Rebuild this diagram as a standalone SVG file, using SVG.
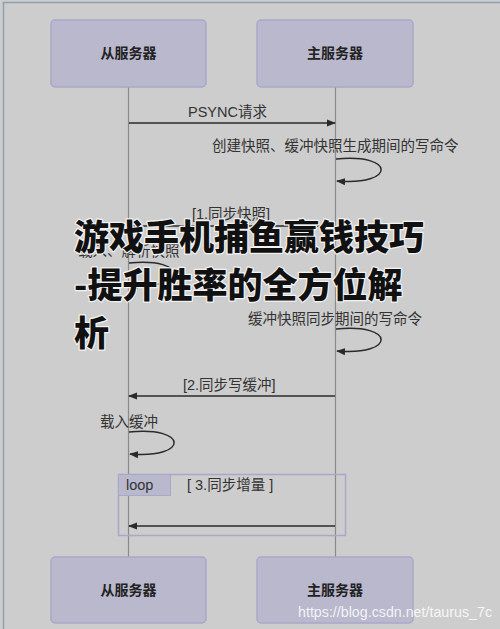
<svg xmlns="http://www.w3.org/2000/svg" width="500" height="629" viewBox="0 0 500 629">
<defs>
<marker id="ah" viewBox="0 0 10 10" refX="9" refY="5" markerWidth="9" markerHeight="9" markerUnits="userSpaceOnUse" orient="auto">
<path d="M0,1 L10,5 L0,9 Z" fill="#2a2a2a"/>
</marker>
<style>
.box{fill:#b9b8cd;stroke:#aaa8c9;stroke-width:1.5}
.lbl{font-family:"Noto Sans CJK SC","Noto Sans",sans-serif;font-size:14px;font-weight:700;fill:#222;text-anchor:middle}
.t{font-family:"Liberation Sans","Noto Sans CJK SC",sans-serif;font-size:14.5px;fill:#333}
.life{stroke:#8a8a8a;stroke-width:1.2}
.msg{stroke:#2a2a2a;stroke-width:1.5;fill:none;marker-end:url(#ah)}
.title{font-family:"Noto Sans CJK SC",sans-serif;font-size:35px;font-weight:900;fill:#111;stroke:#f2f2f2;stroke-width:2.5;paint-order:stroke;stroke-linejoin:round}
</style>
</defs>
<rect width="500" height="629" fill="#cdcdcd"/>
<path d="M3.5,629 V2.5 H500" fill="none" stroke="#8fa0ae" stroke-width="1.5"/>
<g id="lifelines">
<line class="life" x1="128.5" y1="87" x2="128.5" y2="557"/>
<line class="life" x1="335.5" y1="87" x2="335.5" y2="557"/>
</g>
<g id="loopframe">
<rect x="118.5" y="474.5" width="227" height="61" fill="none" stroke="#aaa8c9" stroke-width="1.5"/>
<rect x="118.5" y="474.5" width="52" height="21" fill="#b9b8cd" stroke="#aaa8c9" stroke-width="1"/>
<text class="t" x="126" y="490" font-size="14">loop</text>
<text class="t" x="187" y="490">[ 3.同步增量 ]</text>
</g>
<g id="slave-top"><rect class="box" x="51" y="20" width="155" height="67" rx="4"/><text class="lbl" x="128.5" y="58">从服务器</text></g>
<g id="master-top"><rect class="box" x="257" y="20" width="156" height="67" rx="4"/><text class="lbl" x="335" y="58">主服务器</text></g>
<g id="slave-bottom"><rect class="box" x="51" y="557" width="155" height="66" rx="4"/><text class="lbl" x="128.5" y="595">从服务器</text></g>
<g id="master-bottom"><rect class="box" x="257" y="557" width="156" height="66" rx="4"/><text class="lbl" x="335" y="595">主服务器</text></g>
<g id="connectors">
<line class="msg" x1="129" y1="123" x2="335" y2="123"/>
<text class="t" x="188" y="117">PSYNC请求</text>
<text class="t" x="212" y="151">创建快照、缓冲快照生成期间的写命令</text>
<path class="msg" d="M336,159 C396,153 396,186 337,181"/>
<text class="t" x="192" y="219">[1.同步快照]</text>
<line class="msg" x1="335" y1="226" x2="129" y2="226"/>
<text class="t" x="78" y="256">载入、解析快照</text>
<path class="msg" d="M129,263 C189,257 189,290 130,285"/>
<text class="t" x="248" y="324">缓冲快照同步期间的写命令</text>
<path class="msg" d="M336,329 C396,323 396,356 337,351"/>
<text class="t" x="183" y="390">[2.同步写缓冲]</text>
<line class="msg" x1="335" y1="396" x2="129" y2="396"/>
<text class="t" x="100" y="427">载入缓冲</text>
<path class="msg" d="M129,432 C189,426 189,459 130,454"/>
<line class="msg" x1="335" y1="526" x2="129" y2="526"/>
</g>
<g id="title">
<text class="title" x="74" y="250">游戏手机捕鱼赢钱技巧</text>
<text class="title" x="74" y="298">-提升胜率的全方位解</text>
<text class="title" x="74" y="346">析</text>
</g>
<text x="298" y="617" font-family="Liberation Sans,sans-serif" font-size="15" fill="#ffffff" fill-opacity="0.85" textLength="194" lengthAdjust="spacingAndGlyphs">https://blog.csdn.net/taurus_7c</text>
</svg>
